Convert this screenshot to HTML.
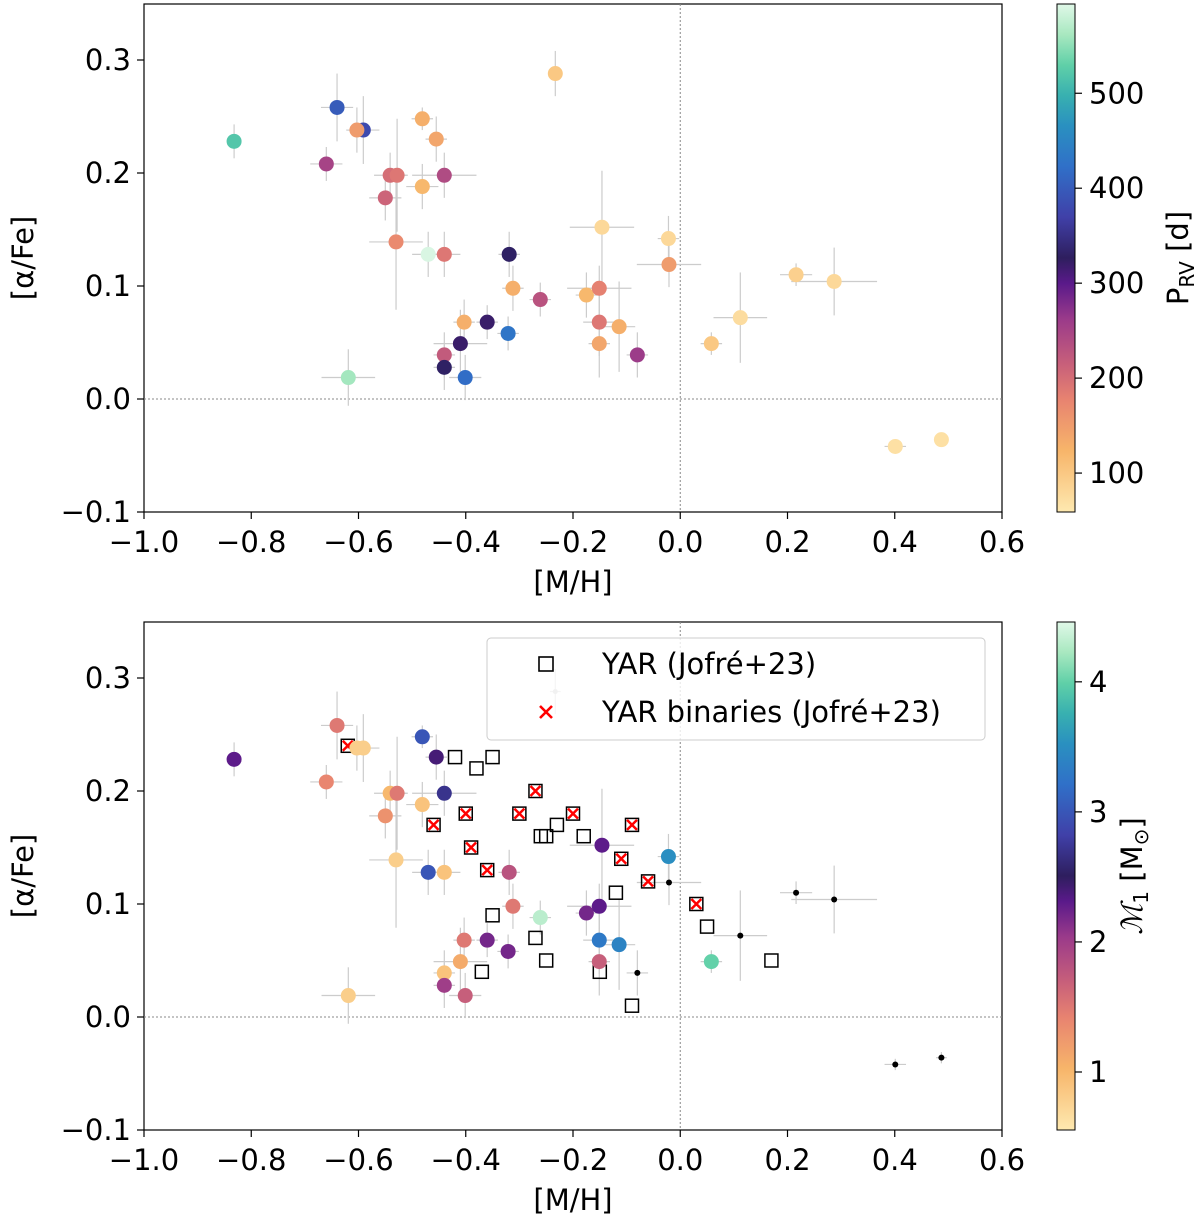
<!DOCTYPE html>
<html><head><meta charset="utf-8">
<style>
html,body{margin:0;padding:0;background:#fff;}
svg{display:block;font-family:"DejaVu Sans","Liberation Sans",sans-serif;}
</style></head>
<body>
<svg id="fig" width="1200" height="1222" viewBox="0 0 1200 1222" xmlns="http://www.w3.org/2000/svg">
<defs>
<linearGradient id="cmap" x1="0" y1="1" x2="0" y2="0">
<stop offset="0" stop-color="#fee9b0"/><stop offset="0.12" stop-color="#f7b56a"/>
<stop offset="0.22" stop-color="#e88470"/><stop offset="0.29" stop-color="#c8607a"/>
<stop offset="0.38" stop-color="#9a3a8a"/><stop offset="0.45" stop-color="#5a1a8a"/>
<stop offset="0.50" stop-color="#2e1e5e"/><stop offset="0.58" stop-color="#4040a8"/>
<stop offset="0.68" stop-color="#3070c8"/><stop offset="0.76" stop-color="#2a90c0"/>
<stop offset="0.82" stop-color="#38b0b0"/><stop offset="0.88" stop-color="#60d0a8"/>
<stop offset="0.94" stop-color="#a8e8c0"/><stop offset="1" stop-color="#e0f8e8"/>
</linearGradient>
</defs>
<g id="top"></g>
<g id="bot"></g>
</svg>
<script>
// Data: [M/H] and [alpha/Fe]
const mh = [-0.832,-0.640,-0.591,-0.603,-0.660,-0.481,-0.455,-0.481,-0.440,-0.541,-0.528,-0.550,-0.530,-0.470,-0.440,-0.233,-0.319,-0.146,-0.022,-0.021,-0.312,-0.261,-0.175,-0.151,-0.360,-0.403,-0.321,-0.151,-0.410,-0.440,-0.440,-0.401,-0.619,-0.114,-0.080,-0.151,0.058,0.112,0.216,0.287,0.401,0.487];
const afe = [0.228,0.258,0.238,0.238,0.208,0.248,0.230,0.188,0.198,0.198,0.198,0.178,0.139,0.128,0.128,0.288,0.128,0.152,0.142,0.119,0.098,0.088,0.092,0.098,0.068,0.068,0.058,0.068,0.049,0.039,0.028,0.019,0.019,0.064,0.039,0.049,0.049,0.072,0.110,0.104,-0.042,-0.036];
const mhErr = [0.01,0.03,0.03,0.02,0.03,0.02,0.02,0.03,0.06,0.03,0.02,0.03,0.05,0.03,0.03,0.01,0.02,0.06,0.02,0.06,0.02,0.02,0.02,0.06,0.02,0.02,0.02,0.03,0.05,0.02,0.02,0.03,0.05,0.03,0.02,0.02,0.02,0.05,0.03,0.08,0.02,0.01];
const afeErr = [0.015,0.03,0.03,0.02,0.015,0.01,0.02,0.02,0.02,0.02,0.05,0.02,0.06,0.02,0.02,0.02,0.02,0.05,0.02,0.02,0.02,0.015,0.02,0.02,0.015,0.02,0.015,0.03,0.03,0.02,0.02,0.02,0.025,0.04,0.02,0.03,0.01,0.04,0.01,0.03,0.005,0.005];
const prv = [520,400,380,150,250,130,140,120,240,200,190,210,170,590,190,100,330,80,80,150,130,230,120,180,320,130,430,190,320,220,330,420,560,130,260,140,100,75,90,80,70,70];
const mass = [2.3,1.5,0.8,0.8,1.4,3.0,2.4,0.9,2.7,1.0,1.5,1.3,0.8,3.0,0.9,null,1.8,2.3,3.5,null,1.5,4.3,2.2,2.3,2.2,1.5,2.2,3.3,1.1,0.9,2.0,1.7,0.8,3.4,null,1.7,4.0,null,null,null,null,null];
const yarMh = [-0.42,-0.38,-0.35,-0.26,-0.25,-0.23,-0.18,-0.12,-0.09,0.05,0.17,-0.15,-0.25,-0.27,-0.35,-0.37];
const yarAfe = [0.23,0.22,0.23,0.16,0.16,0.17,0.16,0.11,0.01,0.08,0.05,0.04,0.05,0.07,0.09,0.04];
const binMh = [-0.62,-0.46,-0.40,-0.39,-0.36,-0.30,-0.27,-0.20,-0.11,-0.09,-0.06,0.03];
const binAfe = [0.24,0.17,0.18,0.15,0.13,0.18,0.20,0.18,0.14,0.17,0.12,0.10];
const xTicks = [-1.0,-0.8,-0.6,-0.4,-0.2,0.0,0.2,0.4,0.6];
const yTicks = [-0.1,0.0,0.1,0.2,0.3];
const cbTicksTop = [100,200,300,400,500];
const cbTicksBot = [1,2,3,4];

const NS="http://www.w3.org/2000/svg";
const stops=[[0,'#fee9b0'],[0.12,'#f7b56a'],[0.22,'#e88470'],[0.29,'#c8607a'],[0.38,'#9a3a8a'],[0.45,'#5a1a8a'],[0.50,'#2e1e5e'],[0.58,'#4040a8'],[0.68,'#3070c8'],[0.76,'#2a90c0'],[0.82,'#38b0b0'],[0.88,'#60d0a8'],[0.94,'#a8e8c0'],[1,'#e0f8e8']].map(s=>[s[0],[1,3,5].map(k=>parseInt(s[1].substr(k,2),16))]);
function cmap(t){t=Math.max(0,Math.min(1,t));for(let i=1;i<stops.length;i++){if(t<=stops[i][0]){const a=stops[i-1],b=stops[i];const f=(t-a[0])/(b[0]-a[0]);const c=a[1].map((v,k)=>Math.round(v+(b[1][k]-v)*f));return `rgb(${c})`;}}return 'rgb(224,248,232)';}
function mk(tag,attrs,parent){const e=document.createElementNS(NS,tag);for(const k in attrs)e.setAttribute(k,attrs[k]);parent.appendChild(e);return e;}
const X0=144,X1=1002,FS=29;
const xs=v=>X0+(v+1.0)/1.6*(X1-X0);
function fmt(v){return (v<0?'\u2212':'')+Math.abs(v).toFixed(1);}

function panel(g,top,opts){
  const bottom=top+508;
  const ys=v=>(top+395)-v*1130;
  const fr=mk('rect',{x:X0,y:top,width:X1-X0,height:508,fill:'none',stroke:'#000','stroke-width':1.2},g);
  
  
  const h=mk('line',{x1:X0,x2:X1,y1:ys(0),y2:ys(0),stroke:'#888','stroke-width':1,'stroke-dasharray':'2,2'},g);
  
  
  const v=mk('line',{x1:xs(0),x2:xs(0),y1:top,y2:bottom,stroke:'#888','stroke-width':1,'stroke-dasharray':'2,2'},g);
  
  
  xTicks.forEach(t=>{
    const x=xs(t);
    mk('line',{x1:x,x2:x,y1:bottom,y2:bottom+7,stroke:'#000','stroke-width':1.2},g);
    const tx=mk('text',{x:x,y:bottom+40,'font-size':FS,'text-anchor':'middle'},g);
    tx.textContent=fmt(t);
    
    
  });
  yTicks.forEach(t=>{
    const y=ys(t);
    mk('line',{x1:X0-7,x2:X0,y1:y,y2:y,stroke:'#000','stroke-width':1.2},g);
    const tx=mk('text',{x:X0-13,y:y+10,'font-size':FS,'text-anchor':'end'},g);
    tx.textContent=fmt(t);
    
    
  });
  const xl=mk('text',{x:573,y:bottom+80,'font-size':FS,'text-anchor':'middle'},g);
  xl.textContent='[M/H]';
  
  
  const yl=mk('text',{x:0,y:0,'font-size':FS,'text-anchor':'middle',transform:`translate(33,${top+254}) rotate(-90)`},g);
  yl.textContent='[\u03B1/Fe]';
  
  
  for(let i=0;i<mh.length;i++){
    const x=xs(mh[i]),y=ys(afe[i]);
    const e1=mk('line',{x1:xs(mh[i]-mhErr[i]),x2:xs(mh[i]+mhErr[i]),y1:y,y2:y,stroke:'#ccc','stroke-width':1.2},g);
    
    
    const e2=mk('line',{x1:x,x2:x,y1:ys(afe[i]-afeErr[i]),y2:ys(afe[i]+afeErr[i]),stroke:'#ccc','stroke-width':1.2},g);
    
    
  }
  opts.extra && opts.extra(g,ys);
  for(let i=0;i<mh.length;i++){
    const val=opts.vals[i];
    const x=xs(mh[i]),y=ys(afe[i]);
    let c;
    if(val===null){
      c=mk('circle',{cx:x,cy:y,r:opts.greyIdx===i?2.5:3,fill:opts.greyIdx===i?'#bbb':'#000'},g);
    } else {
      c=mk('circle',{cx:x,cy:y,r:7.5,fill:cmap((val-opts.vmin)/(opts.vmax-opts.vmin))},g);
    }
    
    
  }
  const cb=mk('rect',{x:1057,y:top,width:18,height:508,fill:'url(#cmap)',stroke:'#000','stroke-width':1},g);
  
  
  opts.cbTicks.forEach(t=>{
    const y=bottom-(t-opts.vmin)/(opts.vmax-opts.vmin)*508;
    mk('line',{x1:1075,x2:1082,y1:y,y2:y,stroke:'#000','stroke-width':1.2},g);
    const tx=mk('text',{x:1089,y:y+10,'font-size':FS},g);
    tx.textContent=String(t);
    
    
  });
  opts.cbLabel(g,top);
}

panel(document.getElementById('top'),4,{vals:prv,vmin:59,vmax:594,cbTicks:cbTicksTop,
  cbLabel:(g,top)=>{
    const t=mk('text',{x:0,y:0,'font-size':FS,'text-anchor':'middle',transform:`translate(1188,${top+254}) rotate(-90)`},g);
    t.innerHTML='P<tspan font-size="20" dy="6">RV</tspan><tspan dy="-6"> [d]</tspan>';
    
    
  }});

panel(document.getElementById('bot'),622,{vals:mass,vmin:0.554,vmax:4.46,cbTicks:cbTicksBot,greyIdx:15,
  extra:(g,ys)=>{
    for(let i=0;i<yarMh.length;i++){
      const s=mk('rect',{x:xs(yarMh[i])-6.5,y:ys(yarAfe[i])-6.5,width:13,height:13,fill:'none',stroke:'#000','stroke-width':1.5},g);
      
      
    }
    for(let i=0;i<binMh.length;i++){
      const x=xs(binMh[i]),y=ys(binAfe[i]);
      const s=mk('rect',{x:x-6.5,y:y-6.5,width:13,height:13,fill:'none',stroke:'#000','stroke-width':1.5},g);
      
      
      const p=mk('path',{d:`M${x-5},${y-5}L${x+5},${y+5}M${x-5},${y+5}L${x+5},${y-5}`,stroke:'#f00','stroke-width':2.5},g);
      
      
    }
  },
  cbLabel:(g,top)=>{
    const t=mk('text',{x:0,y:0,'font-size':FS,'text-anchor':'middle',transform:`translate(1142,${top+254}) rotate(-90)`},g);
    t.innerHTML='<tspan font-style="italic" font-family="Liberation Serif, serif">\u2133</tspan><tspan font-size="20" dy="6">1</tspan><tspan dy="-6"> [M</tspan><tspan font-size="20" dy="6">\u2299</tspan><tspan dy="-6">]</tspan>';
    
    
  }});

const bg=document.getElementById('bot');
const lg=mk('g',{},bg);


mk('rect',{x:487,y:638,width:498,height:102,rx:4,fill:'#fff','fill-opacity':0.8,stroke:'#ccc','stroke-width':1},lg);
mk('rect',{x:539,y:657,width:14,height:14,fill:'none',stroke:'#000','stroke-width':1.6},lg);
const lt1=mk('text',{x:602,y:674,'font-size':FS},lg);
lt1.textContent='YAR (Jofré+23)';


mk('path',{d:'M540,706L552,718M540,718L552,706',stroke:'#f00','stroke-width':2.6},lg);
const lt2=mk('text',{x:602,y:722,'font-size':FS},lg);
lt2.textContent='YAR binaries (Jofré+23)';


</script>
</body></html>
